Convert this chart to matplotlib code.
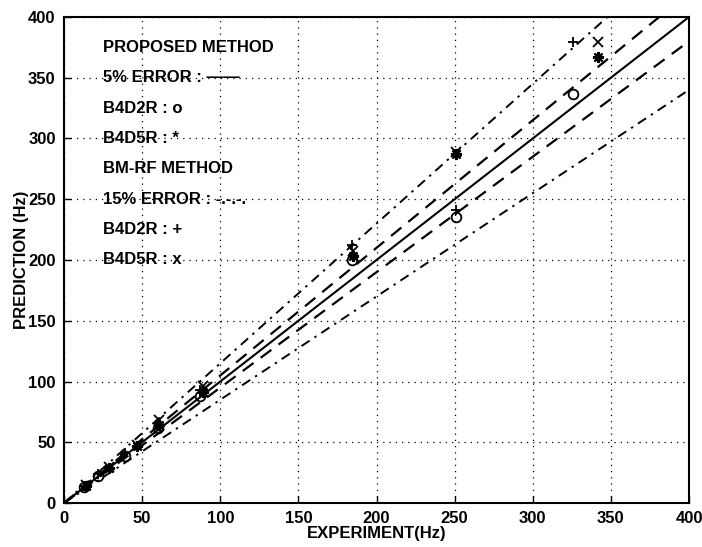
import numpy as np
import matplotlib
matplotlib.use('Agg')
import matplotlib.pyplot as plt

plt.rcParams['font.family'] = ['Liberation Sans', 'DejaVu Sans']
plt.rcParams['font.weight'] = 'bold'

# 数据 (Hz)
exp_d2 = [13, 22, 39, 60, 87, 184, 251, 326]
prop_d2 = [13, 22, 39, 62, 88, 200, 235, 337]   # o
bmrf_d2 = [14, 24, 41, 66, 93, 212, 241, 379]   # +
exp_d5 = [14, 29, 47, 61, 89, 185, 251, 342]
prop_d5 = [14, 29, 47, 64, 91, 203, 287, 367]   # *
bmrf_d5 = [15, 30, 48, 68, 96, 207, 289, 379]   # x

err5 = 0.05
err15 = 0.15
legend_lines = ['PROPOSED METHOD', '5% ERROR : ——', 'B4D2R : o', 'B4D5R : *',
                'BM-RF METHOD', '15% ERROR : -.-.-.', 'B4D2R : +', 'B4D5R : x']

fig = plt.figure(figsize=(7.02, 5.47), dpi=100)
ax = fig.add_axes([0.0912, 0.0804, 0.8903, 0.8886])

xx = np.array([0, 400])
ax.plot(xx, xx, 'k-', lw=1.5)
ax.plot(xx, xx * (1 + err5), 'k--', lw=1.6, dashes=(6, 4))
ax.plot(xx, xx * (1 - err5), 'k--', lw=1.6, dashes=(6, 4))
ax.plot(xx, xx * (1 + err15), 'k-.', lw=1.4, dashes=(5, 3, 1.2, 3))
ax.plot(xx, xx * (1 - err15), 'k-.', lw=1.4, dashes=(5, 3, 1.2, 3))

ax.plot(exp_d2, prop_d2, 'o', mfc='none', mec='k', ms=7, mew=1.3)
ax.plot(exp_d5, prop_d5, ls='none', marker=(8, 2, 0), color='k', ms=8, mew=1.5)
ax.plot(exp_d2, bmrf_d2, '+', color='k', ms=7, mew=1.3)
ax.plot(exp_d5, bmrf_d5, 'x', color='k', ms=7, mew=1.3)

for i, s in enumerate(legend_lines):
    ax.text(25, 375 - 25 * i, s, fontsize=12, fontweight='bold', va='center', ha='left')

ax.set_xlim(0, 400)
ax.set_ylim(0, 400)
ax.set_xticks(range(0, 401, 50))
ax.set_yticks(range(0, 401, 50))
ax.tick_params(direction='in', length=5, labelsize=12, width=1, pad=6)
for lab in ax.get_xticklabels() + ax.get_yticklabels():
    lab.set_fontweight('bold')
ax.grid(True, color='k', ls=(0, (1, 4)), lw=0.9)
for sp in ax.spines.values():
    sp.set_linewidth(1.5)

ax.set_xlabel('EXPERIMENT(Hz)', fontsize=12, fontweight='bold', labelpad=0)
ax.set_ylabel('PREDICTION (Hz)', fontsize=12, fontweight='bold', labelpad=-1)

plt.savefig('out.png', dpi=100)
